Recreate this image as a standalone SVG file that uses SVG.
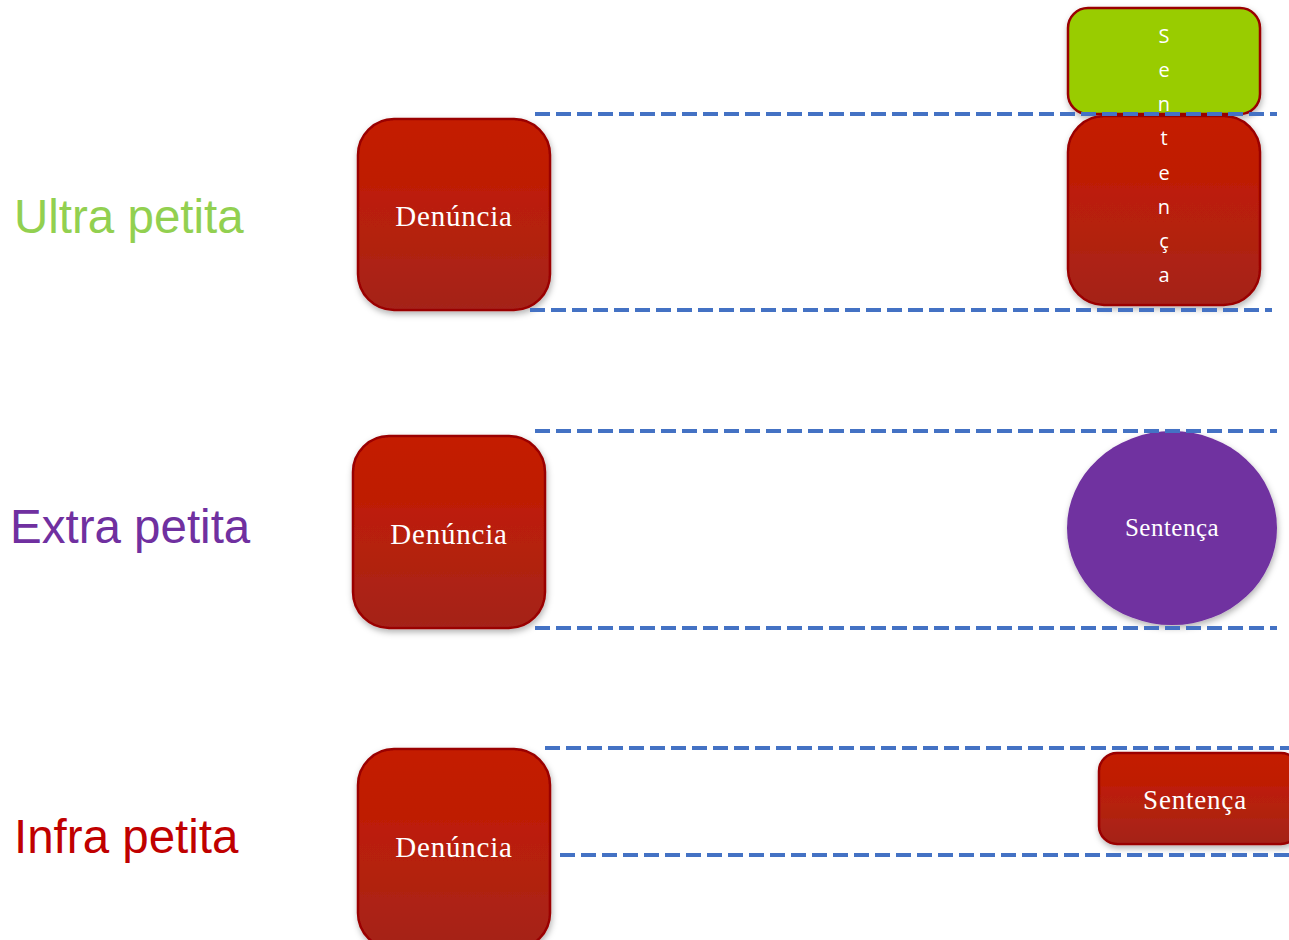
<svg xmlns="http://www.w3.org/2000/svg" width="1289" height="940" viewBox="0 0 1289 940">
<defs>
<linearGradient id="red" x1="0" y1="0" x2="0" y2="1">
<stop offset="0" stop-color="#C41A00"/>
<stop offset="0.35" stop-color="#BE1E06"/>
<stop offset="1" stop-color="#A4241A"/>
</linearGradient>
<filter id="sh" x="-10%" y="-10%" width="125%" height="125%">
<feDropShadow dx="1" dy="3" stdDeviation="3" flood-color="#000" flood-opacity="0.3"/>
</filter>
</defs>
<style>
.lbl{font-family:"Liberation Sans",Arial,sans-serif;font-size:47.5px}
.box{fill:url(#red);stroke:#9A0000;stroke-width:2.5;filter:url(#sh)}
.txt{font-family:"Liberation Serif","Times New Roman",serif;font-size:29px;letter-spacing:0.8px;fill:#fff;text-anchor:middle}
.dash{stroke:#4472C4;stroke-width:4;stroke-dasharray:15 6;fill:none}
.vt{font-family:"Open Sans","DejaVu Sans",sans-serif;font-size:20px;fill:#fff;text-anchor:middle}
</style>
<g id="labels">
<text class="lbl" x="14" y="233" fill="#92D050">Ultra petita</text>
<text class="lbl" x="10" y="543" fill="#7030A0">Extra petita</text>
<text class="lbl" x="14" y="853" fill="#C00000">Infra petita</text>
</g>
<g id="denuncia1">
<rect class="box" x="358" y="119" width="192" height="191" rx="36"/>
<text class="txt" x="454" y="226">Denúncia</text>
</g>
<g id="sentenca1-green">
<rect x="1068" y="8" width="192" height="106" rx="20" fill="#99CC00" stroke="#9A0000" stroke-width="2.5" filter="url(#sh)"/>
</g>
<g id="sentenca1-red">
<rect class="box" x="1068" y="116" width="192" height="189" rx="36"/>
</g>
<g id="denuncia2">
<rect class="box" x="353" y="436" width="192" height="192" rx="36"/>
<text class="txt" x="449" y="544">Denúncia</text>
</g>
<g id="sentenca2">
<ellipse cx="1172" cy="528" rx="105" ry="97" fill="#7030A0" filter="url(#sh)"/>
<text class="txt" x="1172" y="536" style="font-size:25px;letter-spacing:0.5px">Sentença</text>
</g>
<g id="denuncia3">
<rect class="box" x="358" y="749" width="192" height="200" rx="36"/>
<text class="txt" x="454" y="857">Denúncia</text>
</g>
<g id="sentenca3">
<rect class="box" x="1099" y="753" width="200" height="91" rx="18"/>
<text class="txt" x="1195" y="809" style="font-size:27px;letter-spacing:0.8px">Sentença</text>
</g>
<g id="connectors">
<line class="dash" x1="535" y1="114" x2="1277" y2="114"/>
<line class="dash" x1="530" y1="310" x2="1272" y2="310"/>
<line class="dash" x1="535" y1="431" x2="1277" y2="431"/>
<line class="dash" x1="535" y1="628" x2="1277" y2="628"/>
<line class="dash" x1="545" y1="748" x2="1289" y2="748"/>
<line class="dash" x1="560" y1="855" x2="1289" y2="855"/>
</g>
<g id="vertical-text">
<text class="vt" x="1164" y="43">S</text>
<text class="vt" x="1164" y="77">e</text>
<text class="vt" x="1164" y="111">n</text>
<text class="vt" x="1164" y="145">t</text>
<text class="vt" x="1164" y="180">e</text>
<text class="vt" x="1164" y="214">n</text>
<text class="vt" x="1164" y="248">ç</text>
<text class="vt" x="1164" y="282">a</text>
</g>
</svg>
